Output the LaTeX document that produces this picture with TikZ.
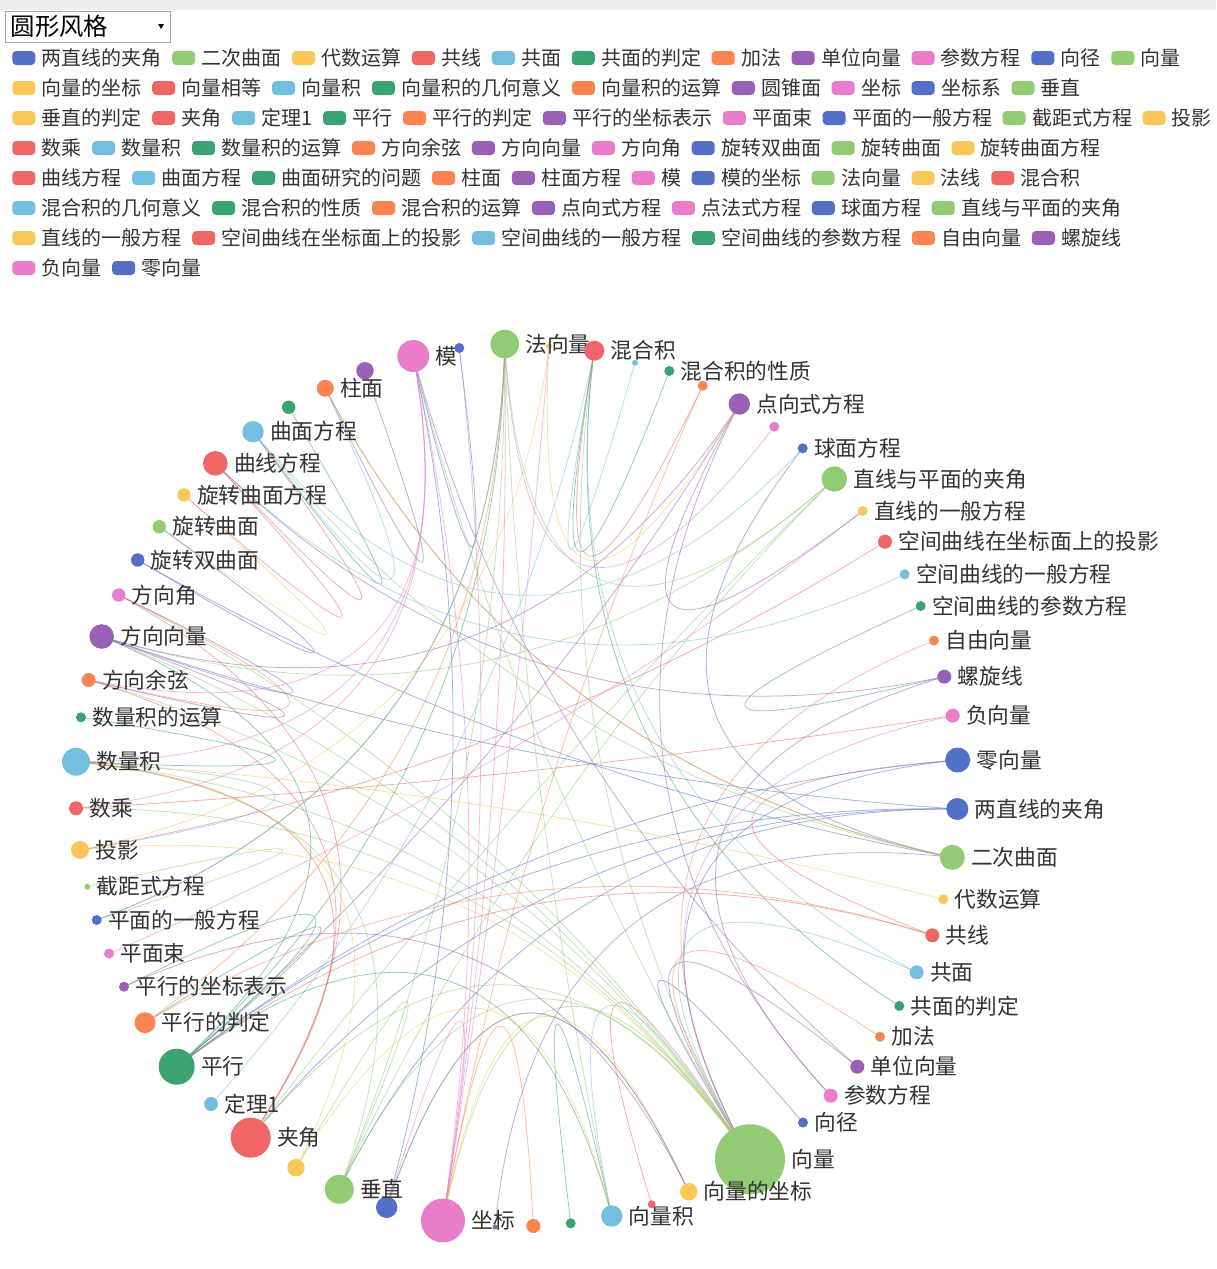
\documentclass[tikz,border=0pt]{standalone}
\usepackage{fontspec}
\newfontfamily\cjk{Noto Sans CJK SC}
\usetikzlibrary{calc,positioning}
\pgfdeclarelayer{bgl}\pgfdeclarelayer{edl}\pgfsetlayers{bgl,edl,main}
\definecolor{pal0}{HTML}{5470C6}
\definecolor{pal1}{HTML}{91CC75}
\definecolor{pal2}{HTML}{FAC858}
\definecolor{pal3}{HTML}{EE6666}
\definecolor{pal4}{HTML}{73C0DE}
\definecolor{pal5}{HTML}{3BA272}
\definecolor{pal6}{HTML}{FC8452}
\definecolor{pal7}{HTML}{9A60B4}
\definecolor{pal8}{HTML}{EA7CCC}
\definecolor{txt}{HTML}{333333}
\definecolor{topgray}{HTML}{EFEFEF}
\definecolor{ddgray}{HTML}{A6A6A6}
\tikzset{
 vn/.style={circle, inner sep=0pt, draw=none},
 clbl/.style={font=\cjk\fontsize{21.7}{26}\selectfont, text=txt, inner sep=0pt, text height=18pt, text depth=1.5pt, xshift=6pt},
 lgt/.style={font=\cjk\fontsize{20}{24}\selectfont, text=txt, inner sep=0pt, text height=16.6pt, text depth=1.4pt},
 lgb/.style={rounded corners=4pt, minimum width=23pt, minimum height=14pt, inner sep=0pt, draw=none, xshift=-6pt},
 edg/.style={line width=0.75pt, draw opacity=0.55},
}
\newcommand\nd[5]{\pgfmathtruncatemacro\ci{mod(#1,9)}%
 \node[vn, fill=pal\ci, minimum size={2*#4pt}, label={[clbl]right:{#5}}] (n#1) at (#2,#3) {};}
\newcommand\ndh[4]{\pgfmathtruncatemacro\ci{mod(#1,9)}%
 \node[vn, fill=pal\ci, minimum size={2*#4pt}] (n#1) at (#2,#3) {};}
\newcommand\lgf[3]{\pgfmathtruncatemacro\ci{mod(#1,9)}%
 \node[lgt, anchor=west, label={[lgb,fill=pal\ci]left:{}}] (l#1) at (41.5,#2) {#3};}
\newcommand\lgi[3]{\pgfmathtruncatemacro\ci{mod(#1,9)}%
 \node[lgt, right=39.5pt of l#2, label={[lgb,fill=pal\ci]left:{}}] (l#1) {#3};}
\newcommand\ed[2]{\pgfmathtruncatemacro\ci{mod(#1,9)}%
 \path ($(n#1.center)!0.5!(n#2.center)$) coordinate (em);
 \path ($(ctr)!0.1!(em)$) coordinate (ecp);
 \draw[edg, draw=pal\ci] (n#1.center) .. controls ($(n#1.center)!0.6667!(ecp)$) and ($(n#2.center)!0.6667!(ecp)$) .. (n#2.center);}
\begin{document}
\begin{tikzpicture}[x=1pt,y=-1pt]
\useasboundingbox (0,0) rectangle (1216,1269);
\begin{pgfonlayer}{bgl}
\fill[white] (0,0) rectangle (1216,1269);
\fill[topgray] (0,0) rectangle (1216,10);
\end{pgfonlayer}
\coordinate (ctr) at (516,785);
% dropdown
\node[draw=ddgray, line width=1pt, fill=white, minimum width=165pt, minimum height=31pt, inner sep=0pt] (dd) at (87.5,26.5) {};
\node[anchor=west, font=\cjk\fontsize{24.4}{28}\selectfont, text=black, inner sep=0pt, text height=20.2pt, text depth=1.7pt] (ddt) at (10.5,26.5) {圆形风格};
\fill[black] (158,24) -- (164,24) -- (161,29) -- cycle;
% legend
\lgf{0}{58}{两直线的夹角}\lgi{1}{0}{二次曲面}\lgi{2}{1}{代数运算}\lgi{3}{2}{共线}\lgi{4}{3}{共面}\lgi{5}{4}{共面的判定}\lgi{6}{5}{加法}\lgi{7}{6}{单位向量}\lgi{8}{7}{参数方程}\lgi{9}{8}{向径}\lgi{10}{9}{向量}
\lgf{11}{88}{向量的坐标}\lgi{12}{11}{向量相等}\lgi{13}{12}{向量积}\lgi{14}{13}{向量积的几何意义}\lgi{15}{14}{向量积的运算}\lgi{16}{15}{圆锥面}\lgi{17}{16}{坐标}\lgi{18}{17}{坐标系}\lgi{19}{18}{垂直}
\lgf{20}{118}{垂直的判定}\lgi{21}{20}{夹角}\lgi{22}{21}{定理1}\lgi{23}{22}{平行}\lgi{24}{23}{平行的判定}\lgi{25}{24}{平行的坐标表示}\lgi{26}{25}{平面束}\lgi{27}{26}{平面的一般方程}\lgi{28}{27}{截距式方程}\lgi{29}{28}{投影}
\lgf{30}{148}{数乘}\lgi{31}{30}{数量积}\lgi{32}{31}{数量积的运算}\lgi{33}{32}{方向余弦}\lgi{34}{33}{方向向量}\lgi{35}{34}{方向角}\lgi{36}{35}{旋转双曲面}\lgi{37}{36}{旋转曲面}\lgi{38}{37}{旋转曲面方程}
\lgf{39}{178}{曲线方程}\lgi{40}{39}{曲面方程}\lgi{41}{40}{曲面研究的问题}\lgi{42}{41}{柱面}\lgi{43}{42}{柱面方程}\lgi{44}{43}{模}\lgi{45}{44}{模的坐标}\lgi{46}{45}{法向量}\lgi{47}{46}{法线}\lgi{48}{47}{混合积}
\lgf{49}{208}{混合积的几何意义}\lgi{50}{49}{混合积的性质}\lgi{51}{50}{混合积的运算}\lgi{52}{51}{点向式方程}\lgi{53}{52}{点法式方程}\lgi{54}{53}{球面方程}\lgi{55}{54}{直线与平面的夹角}
\lgf{56}{238}{直线的一般方程}\lgi{57}{56}{空间曲线在坐标面上的投影}\lgi{58}{57}{空间曲线的一般方程}\lgi{59}{58}{空间曲线的参数方程}\lgi{60}{59}{自由向量}\lgi{61}{60}{螺旋线}
\lgf{62}{268}{负向量}\lgi{63}{62}{零向量}
% graph nodes
\nd{0}{957.3}{809}{11}{两直线的夹角}
\nd{1}{952.3}{857.3}{12.5}{二次曲面}
\nd{2}{943.3}{899.3}{5}{代数运算}
\nd{3}{932.3}{935.3}{7}{共线}
\nd{4}{916.7}{972.3}{7}{共面}
\nd{5}{899.3}{1006}{5}{共面的判定}
\nd{6}{880}{1036.7}{5}{加法}
\nd{7}{857.3}{1066.7}{7}{单位向量}
\nd{8}{830.7}{1095.7}{7}{参数方程}
\nd{9}{803}{1122.5}{5}{向径}
\nd{10}{750}{1159.3}{35}{向量}
\nd{11}{688.7}{1191.7}{8.7}{向量的坐标}
\ndh{12}{651.7}{1204.3}{4}
\nd{13}{611.7}{1216}{10.7}{向量积}
\ndh{14}{570.7}{1223.3}{5}
\ndh{15}{533.3}{1226}{7}
\ndh{16}{495}{1227}{2.5}
\nd{17}{443}{1220.5}{22}{坐标}
\ndh{18}{386.7}{1207.3}{10.7}
\nd{19}{339.3}{1189.3}{14.5}{垂直}
\ndh{20}{296}{1167.7}{8.7}
\nd{21}{250.7}{1137.7}{20}{夹角}
\nd{22}{211}{1104}{7}{定理1}
\nd{23}{176.7}{1066.7}{18}{平行}
\nd{24}{145}{1022.7}{10.5}{平行的判定}
\nd{25}{124}{986.7}{5}{平行的坐标表示}
\nd{26}{109}{953.5}{5}{平面束}
\nd{27}{96.7}{920}{5}{平面的一般方程}
\nd{28}{87.3}{886.7}{3}{截距式方程}
\nd{29}{80}{850}{9}{投影}
\nd{30}{76}{808.3}{7}{数乘}
\nd{31}{76}{761.7}{14}{数量积}
\nd{32}{81}{717.3}{5}{数量积的运算}
\nd{33}{88.7}{680}{7}{方向余弦}
\nd{34}{101.7}{636.5}{12.3}{方向向量}
\nd{35}{118.7}{595}{6.7}{方向角}
\nd{36}{137.7}{560}{6.7}{旋转双曲面}
\nd{37}{159.3}{526.7}{6.7}{旋转曲面}
\nd{38}{184}{495}{6.7}{旋转曲面方程}
\nd{39}{215.3}{463.3}{12.3}{曲线方程}
\nd{40}{253}{431.7}{10.7}{曲面方程}
\ndh{41}{288.7}{407.3}{6.7}
\nd{42}{325.3}{388.3}{8.5}{柱面}
\ndh{43}{365}{370.7}{8.7}
\ndh{47}{549}{346}{3}
\nd{44}{413.3}{356}{16}{模}
\ndh{45}{459.3}{348}{5}
\nd{46}{504.7}{344}{14.3}{法向量}
\nd{48}{594.3}{350.7}{10}{混合积}
\ndh{49}{635}{362.7}{3}
\nd{50}{669.3}{371}{5}{混合积的性质}
\ndh{51}{702.7}{385.7}{5}
\nd{52}{739.3}{404}{10.7}{点向式方程}
\ndh{53}{774.3}{426.7}{5}
\nd{54}{802.7}{448.3}{5}{球面方程}
\nd{55}{834.3}{479}{12.7}{直线与平面的夹角}
\nd{56}{862.7}{511}{5}{直线的一般方程}
\nd{57}{885}{541.7}{7}{空间曲线在坐标面上的投影}
\nd{58}{904.7}{574.3}{5}{空间曲线的一般方程}
\nd{59}{920.7}{606}{5}{空间曲线的参数方程}
\nd{60}{934}{640.5}{5}{自由向量}
\nd{61}{944.3}{676.7}{7}{螺旋线}
\nd{62}{952.7}{715.7}{7}{负向量}
\nd{63}{957.7}{760}{12.5}{零向量}
% edges
\begin{pgfonlayer}{edl}
\ed{9}{10}\ed{13}{10}\ed{12}{10}\ed{11}{17}\ed{11}{18}\ed{15}{17}\ed{45}{44}\ed{49}{48}\ed{50}{48}\ed{43}{42}
\ed{41}{40}\ed{39}{40}\ed{38}{37}\ed{39}{38}\ed{36}{37}\ed{33}{35}\ed{31}{29}\ed{53}{46}\ed{54}{1}\ed{55}{46}
\ed{55}{21}\ed{55}{34}\ed{55}{19}\ed{26}{56}\ed{57}{29}\ed{58}{39}\ed{59}{61}\ed{60}{10}\ed{61}{8}\ed{61}{39}
\ed{62}{10}\ed{30}{62}\ed{63}{10}\ed{3}{63}\ed{63}{23}\ed{0}{21}\ed{0}{34}\ed{0}{19}\ed{0}{23}\ed{36}{1}
\ed{1}{40}\ed{1}{42}\ed{2}{31}\ed{3}{23}\ed{4}{48}\ed{4}{10}\ed{5}{48}\ed{6}{10}\ed{7}{10}\ed{7}{44}
\ed{52}{8}\ed{52}{34}\ed{52}{56}\ed{52}{23}\ed{10}{44}\ed{10}{30}\ed{10}{31}\ed{10}{48}\ed{10}{35}\ed{10}{33}
\ed{10}{21}\ed{10}{17}\ed{10}{34}\ed{10}{19}\ed{17}{44}\ed{17}{45}\ed{17}{46}\ed{17}{18}\ed{17}{47}\ed{14}{13}
\ed{16}{1}\ed{18}{11}\ed{18}{44}\ed{19}{20}\ed{19}{31}\ed{19}{46}\ed{20}{31}\ed{20}{13}\ed{21}{31}\ed{21}{33}
\ed{21}{35}\ed{22}{48}\ed{23}{24}\ed{23}{25}\ed{23}{46}\ed{23}{34}\ed{23}{13}\ed{24}{3}\ed{24}{46}\ed{25}{11}
\ed{27}{46}\ed{28}{27}\ed{29}{10}\ed{32}{31}\ed{34}{35}\ed{34}{33}\ed{40}{54}\ed{40}{42}\ed{42}{1}\ed{44}{31}
\ed{44}{30}\ed{46}{27}\ed{46}{13}\ed{47}{52}\ed{47}{29}\ed{48}{51}\ed{51}{17}\ed{44}{33}
\end{pgfonlayer}
\end{tikzpicture}
\end{document}
